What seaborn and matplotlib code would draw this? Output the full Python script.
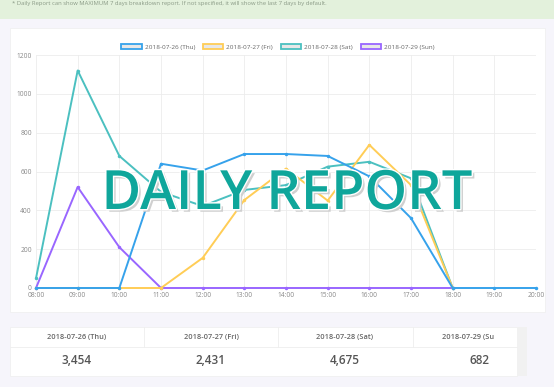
import matplotlib
matplotlib.use("Agg")
import matplotlib.pyplot as plt
import matplotlib.patheffects as pe
from matplotlib.patches import Rectangle, Patch
import pandas as pd
import seaborn as sns

sns.set_theme(style="white")
plt.rcParams["font.family"] = ["Open Sans", "DejaVu Sans"]

# Dados
horas = ["08:00", "09:00", "10:00", "11:00", "12:00", "13:00", "14:00",
         "15:00", "16:00", "17:00", "18:00", "19:00", "20:00"]
dias = ["2018-07-26 (Thu)", "2018-07-27 (Fri)", "2018-07-28 (Sat)", "2018-07-29 (Sun)"]
thu = [0, 0, 0, 640, 605, 690, 690, 680, 575, 360, 0, 0, 0]
fri = [0, 0, 0, 0, 155, 453, 615, 450, 737, 530, 0, None, None]
sat = [50, 1120, 680, 495, 422, 505, 530, 625, 650, 565, 0, None, None]
sun = [0, 520, 210, 0, 0, 0, 0, 0, 0, 0, 0, None, None]
totais = ["3,454", "2,431", "4,675", "682"]
cores = ["#36a2eb", "#ffcd56", "#4bc0c0", "#9966ff"]

W, H = 554, 387


def px(x, y):
    return x / W, 1 - y / H


def caixa(x0, y0, x1, y1, **kw):
    r = Rectangle(px(x0, y1), (x1 - x0) / W, (y1 - y0) / H,
                  transform=fig.transFigure, zorder=-1, **kw)
    fig.patches.append(r)


fig = plt.figure(figsize=(W / 100, H / 100), dpi=100)
fig.patch.set_facecolor("#f6f5fb")

# Barra de aviso
caixa(0, 0, W, 19, facecolor="#e3f1dc", edgecolor="none")
fig.text(*px(12, 4), "* Daily Report can show MAXIMUM 7 days breakdown report. "
         "If not specified, it will show the last 7 days by default.",
         fontsize=4.2, color="#8a9a86", va="center")

# Cartão do gráfico
caixa(10, 28, 545, 312, facecolor="white", edgecolor="#eeeeee", lw=0.5)

ax = fig.add_axes([36 / W, (H - 288) / H, 500 / W, 233 / H])
ax.set_facecolor("none")

linhas = []
for dia, vals in zip(dias, [thu, fri, sat, sun]):
    for i, v in enumerate(vals):
        linhas.append({"hora": i, "dia": dia, "valor": v})
df = pd.DataFrame(linhas).dropna()

# ordem de desenho: domingo embaixo, quinta por cima
for dia, cor in list(zip(dias, cores))[::-1]:
    sub = df[df["dia"] == dia]
    sns.lineplot(data=sub, x="hora", y="valor", ax=ax, color=cor, lw=1.4,
                 marker="o", markersize=2.5, markeredgewidth=0, legend=False,
                 clip_on=False, zorder=3)

ax.set_xlim(0, len(horas) - 1)
ax.set_ylim(0, 1200)
ax.set_xticks(range(len(horas)))
ax.set_xticklabels(horas)
ax.set_yticks(range(0, 1201, 200))
ax.tick_params(labelsize=4.8, colors="#888888", length=0, pad=3)
ax.set_xlabel("")
ax.set_ylabel("")
ax.grid(True, color="#ececec", lw=0.6)
ax.set_axisbelow(True)
for s in ax.spines.values():
    s.set_visible(False)

handles = [Patch(facecolor="#e8e8e8", edgecolor=c, lw=1.3, label=d)
           for d, c in zip(dias, cores)]
fig.legend(handles=handles, loc="center", bbox_to_anchor=px(278, 47), ncol=4,
           frameon=False, fontsize=4.6, handlelength=3.2, handleheight=0.9,
           columnspacing=1.2, handletextpad=0.5, labelcolor="#666666")

# Texto grande
fig.text(*px(287, 195), "DAILY REPORT", fontsize=39, color="#0fa69b",
         ha="center", va="center", fontweight="semibold", zorder=5,
         path_effects=[pe.SimplePatchShadow(offset=(2, -2), shadow_rgbFace="#d0d0d0", alpha=1),
                       pe.Stroke(linewidth=2, foreground="white"), pe.Normal()])

# Tabela
caixa(10, 327, 517, 376, facecolor="white", edgecolor="#eeeeee", lw=0.5)
caixa(517, 327, 527, 376, facecolor="#f1f1f1", edgecolor="none")
fig.lines.append(plt.Line2D([10 / W, 517 / W], [1 - 347 / H] * 2,
                            transform=fig.transFigure, color="#eeeeee", lw=0.6))
centros = [77, 211, 345, 480]
for i, (c, d, t) in enumerate(zip(centros, dias, totais)):
    if i > 0:
        fig.lines.append(plt.Line2D([(c - 67) / W] * 2, [1 - 347 / H, 1 - 327 / H],
                                    transform=fig.transFigure, color="#eeeeee", lw=0.6))
    rotulo = d if i < 3 else d[:14]
    fig.text(*px(c if i < 3 else 494, 337), rotulo, fontsize=5.3, color="#666666",
             ha="center" if i < 3 else "right", va="center", fontweight="semibold")
    fig.text(*px(c, 361), t, fontsize=8.5, color="#555555", ha="center", va="center",
             fontweight="semibold")

plt.savefig("out.png", dpi=100)
plt.close()
